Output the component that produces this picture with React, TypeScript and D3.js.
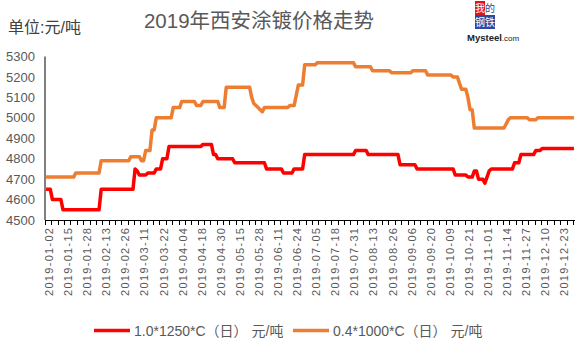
import React, { useEffect, useRef } from 'react';
import * as d3 from 'd3';

// 2019 China calendar: official holidays and weekend make-up working days
const holidays = [
  '2019-01-01',
  '2019-02-04', '2019-02-05', '2019-02-06', '2019-02-07', '2019-02-08',
  '2019-04-05',
  '2019-05-01', '2019-05-02', '2019-05-03',
  '2019-06-07',
  '2019-09-13',
  '2019-10-01', '2019-10-02', '2019-10-03', '2019-10-04', '2019-10-07',
];
const extraWorkdays = ['2019-02-02', '2019-02-03', '2019-04-28', '2019-05-05', '2019-09-29', '2019-10-12'];

const fmt = d3.timeFormat('%Y-%m-%d');
const dates: string[] = d3.timeDay
  .range(new Date(2019, 0, 2), new Date(2020, 0, 1))
  .filter(d => {
    const s = fmt(d);
    if (holidays.includes(s)) return false;
    if (extraWorkdays.includes(s)) return true;
    return d.getDay() !== 0 && d.getDay() !== 6;
  })
  .map(fmt);

// 1.0*1250*C (日) 元/吨
const price1250 = [
  4650, 4650, 4650, 4600, 4600, 4600, 4600, 4600, 4550, 4550,
  4550, 4550, 4550, 4550, 4550, 4550, 4550, 4550, 4550, 4550,
  4550, 4550, 4550, 4550, 4550, 4550, 4650, 4650, 4650, 4650,
  4650, 4650, 4650, 4650, 4650, 4650, 4650, 4650, 4650, 4650,
  4650, 4650, 4750, 4740, 4720, 4720, 4720, 4720, 4730, 4730,
  4730, 4730, 4750, 4750, 4750, 4800, 4800, 4800, 4860, 4860,
  4860, 4860, 4860, 4860, 4860, 4860, 4860, 4860, 4860, 4860,
  4860, 4860, 4860, 4860, 4870, 4870, 4870, 4870, 4870, 4820,
  4820, 4800, 4800, 4800, 4800, 4800, 4800, 4800, 4800, 4780,
  4780, 4780, 4780, 4780, 4780, 4780, 4780, 4780, 4780, 4780,
  4780, 4780, 4780, 4780, 4750, 4750, 4750, 4750, 4750, 4750,
  4750, 4750, 4730, 4730, 4730, 4730, 4730, 4750, 4750, 4750,
  4750, 4750, 4820, 4820, 4820, 4820, 4820, 4820, 4820, 4820,
  4820, 4820, 4820, 4820, 4820, 4820, 4820, 4820, 4820, 4820,
  4820, 4820, 4820, 4820, 4820, 4820, 4840, 4840, 4840, 4840,
  4840, 4840, 4820, 4820, 4820, 4820, 4820, 4820, 4820, 4820,
  4820, 4820, 4820, 4820, 4820, 4820, 4820, 4770, 4770, 4770,
  4770, 4770, 4770, 4770, 4770, 4750, 4750, 4750, 4750, 4750,
  4750, 4750, 4750, 4750, 4750, 4750, 4750, 4750, 4750, 4750,
  4750, 4750, 4750, 4720, 4720, 4720, 4720, 4720, 4720, 4710,
  4710, 4710, 4740, 4740, 4700, 4700, 4700, 4680, 4710, 4740,
  4750, 4750, 4750, 4750, 4750, 4750, 4750, 4750, 4750, 4750,
  4750, 4780, 4780, 4780, 4820, 4820, 4820, 4820, 4820, 4820,
  4820, 4840, 4840, 4840, 4850, 4850, 4850, 4850, 4850, 4850,
  4850, 4850, 4850, 4850, 4850, 4850, 4850, 4850, 4850, 4850,
];

// 0.4*1000*C (日) 元/吨
const price1000 = [
  4710, 4710, 4710, 4710, 4710, 4710, 4710, 4710, 4710, 4710,
  4710, 4710, 4710, 4710, 4730, 4730, 4730, 4730, 4730, 4730,
  4730, 4730, 4730, 4730, 4730, 4730, 4790, 4790, 4790, 4790,
  4790, 4790, 4790, 4790, 4790, 4790, 4790, 4790, 4790, 4790,
  4810, 4810, 4810, 4810, 4810, 4790, 4790, 4840, 4840, 4840,
  4940, 4940, 5000, 5000, 5000, 5000, 5000, 5000, 5000, 5000,
  5050, 5050, 5050, 5050, 5080, 5080, 5080, 5080, 5080, 5080,
  5080, 5060, 5060, 5060, 5080, 5080, 5080, 5080, 5080, 5080,
  5080, 5080, 5050, 5050, 5050, 5150, 5150, 5150, 5150, 5150,
  5150, 5150, 5150, 5150, 5150, 5150, 5150, 5100, 5070, 5060,
  5050, 5040, 5030, 5050, 5050, 5050, 5050, 5050, 5050, 5050,
  5050, 5050, 5050, 5050, 5050, 5060, 5060, 5060, 5110, 5160,
  5160, 5160, 5260, 5260, 5260, 5260, 5260, 5260, 5270, 5270,
  5270, 5270, 5270, 5270, 5270, 5270, 5270, 5270, 5270, 5270,
  5270, 5270, 5270, 5270, 5270, 5270, 5250, 5250, 5250, 5250,
  5250, 5250, 5250, 5250, 5230, 5230, 5230, 5230, 5230, 5230,
  5230, 5230, 5230, 5220, 5220, 5220, 5220, 5220, 5220, 5220,
  5220, 5220, 5220, 5230, 5230, 5230, 5230, 5230, 5230, 5230,
  5210, 5210, 5210, 5210, 5210, 5210, 5210, 5210, 5210, 5210,
  5210, 5210, 5200, 5200, 5200, 5170, 5140, 5140, 5140, 5100,
  5040, 5040, 4950, 4950, 4950, 4950, 4950, 4950, 4950, 4950,
  4950, 4950, 4950, 4950, 4950, 4950, 4950, 4970, 4990, 5000,
  5000, 5000, 5000, 5000, 5000, 5000, 5000, 5000, 4990, 4990,
  4990, 4990, 5000, 5000, 5000, 5000, 5000, 5000, 5000, 5000,
  5000, 5000, 5000, 5000, 5000, 5000, 5000, 5000, 5000, 5000,
];

const yTicks = [4500, 4600, 4700, 4800, 4900, 5000, 5100, 5200, 5300];
const seriesNames = ['1.0*1250*C（日） 元/吨', '0.4*1000*C（日） 元/吨'];
const seriesColors = ['#ff0000', '#ed7d31'];

const FONT = '"Liberation Sans", Arial, "Noto Sans CJK SC", sans-serif';

const App = () => {
  const svgRef = useRef<SVGSVGElement>(null);

  useEffect(() => {
    const svg = d3.select(svgRef.current);
    svg.selectAll('*').remove();

    const left = 45, right = 575, top = 56.5, bottom = 220;

    const x = d3.scaleBand<number>()
      .domain(dates.map((_, i) => i))
      .range([left, right])
      .padding(0);
    const cx = (i: number) => (x(i) as number) + x.bandwidth() / 2;

    const y = d3.scaleLinear().domain([4500, 5300]).range([bottom, top]);

    // titles
    svg.append('text')
      .attr('x', 259).attr('y', 28)
      .attr('text-anchor', 'middle')
      .attr('font-size', 20.5)
      .attr('fill', '#595959')
      .text('2019年西安涂镀价格走势');

    svg.append('text')
      .attr('x', 8).attr('y', 33)
      .attr('font-size', 16)
      .attr('fill', '#404040')
      .text('单位:元/吨');

    // logo
    const logo = svg.append('g').attr('transform', 'translate(475,1)');
    const cells = [
      { ch: '我', dx: 0, dy: 0, bg: '#e0141e', fg: '#fff' },
      { ch: '的', dx: 10, dy: 0, bg: '#fff', fg: '#2b4aa0' },
      { ch: '钢', dx: 0, dy: 14, bg: '#2b4aa0', fg: '#fff' },
      { ch: '铁', dx: 10, dy: 14, bg: '#2b4aa0', fg: '#fff' },
    ];
    cells.forEach(c => {
      logo.append('rect').attr('x', c.dx).attr('y', c.dy).attr('width', 10).attr('height', 14).attr('fill', c.bg);
      logo.append('text')
        .attr('x', c.dx + 5).attr('y', c.dy + 10.5)
        .attr('text-anchor', 'middle')
        .attr('font-size', 10)
        .attr('fill', c.fg)
        .text(c.ch);
    });
    svg.append('text')
      .attr('x', 467).attr('y', 41)
      .attr('font-size', 8)
      .attr('fill', '#222')
      .html('<tspan font-weight="bold" font-size="9.5">Mysteel</tspan>.com');

    // y axis
    svg.append('line')
      .attr('x1', left).attr('x2', left)
      .attr('y1', top).attr('y2', bottom)
      .attr('stroke', '#000').attr('stroke-width', 1);
    svg.append('g')
      .selectAll('text')
      .data(yTicks)
      .join('text')
      .attr('x', 35)
      .attr('y', d => y(d))
      .attr('dy', '0.36em')
      .attr('text-anchor', 'end')
      .attr('font-size', 13)
      .attr('fill', '#595959')
      .text(d => d);

    // x axis
    svg.append('line')
      .attr('x1', left).attr('x2', right)
      .attr('y1', bottom + 0.5).attr('y2', bottom + 0.5)
      .attr('stroke', '#000');
    const tickIdx = d3.range(0, dates.length + 1, 3);
    svg.append('g')
      .selectAll('line')
      .data(tickIdx)
      .join('line')
      .attr('x1', i => Math.round(left + i * x.step()) + 0.5)
      .attr('x2', i => Math.round(left + i * x.step()) + 0.5)
      .attr('y1', bottom)
      .attr('y2', bottom + 5)
      .attr('stroke', '#000');

    const labelIdx = d3.range(0, dates.length, 9);
    svg.append('g')
      .selectAll('text')
      .data(labelIdx)
      .join('text')
      .attr('transform', i => `translate(${cx(i) + 3},228) rotate(-90)`)
      .attr('text-anchor', 'end')
      .attr('dominant-baseline', 'central')
      .attr('font-size', 11)
      .attr('textLength', 68)
      .attr('lengthAdjust', 'spacing')
      .attr('fill', '#595959')
      .text(i => dates[i]);

    // lines
    const line = d3.line<number>()
      .x((_, i) => cx(i))
      .y(d => y(d));

    [price1250, price1000].forEach((s, k) => {
      svg.append('path')
        .datum(s)
        .attr('d', line)
        .attr('fill', 'none')
        .attr('stroke', seriesColors[k])
        .attr('stroke-width', 3.5)
        .attr('stroke-linejoin', 'round');
    });

    // legend
    const legendX = [94, 293];
    seriesNames.forEach((name, k) => {
      const g = svg.append('g').attr('transform', `translate(${legendX[k]},330.5)`);
      g.append('line')
        .attr('x1', 0).attr('x2', 36)
        .attr('stroke', seriesColors[k])
        .attr('stroke-width', 3.5);
      g.append('text')
        .attr('x', 40).attr('y', 0)
        .attr('dy', '0.36em')
        .attr('font-size', 14)
        .attr('fill', '#595959')
        .text(name);
    });
  }, []);

  return (
    <svg
      ref={svgRef}
      width={587}
      height={352}
      style={{ position: 'absolute', left: 0, top: 0, display: 'block', background: '#fff', fontFamily: FONT }}
    />
  );
};

export default App;
